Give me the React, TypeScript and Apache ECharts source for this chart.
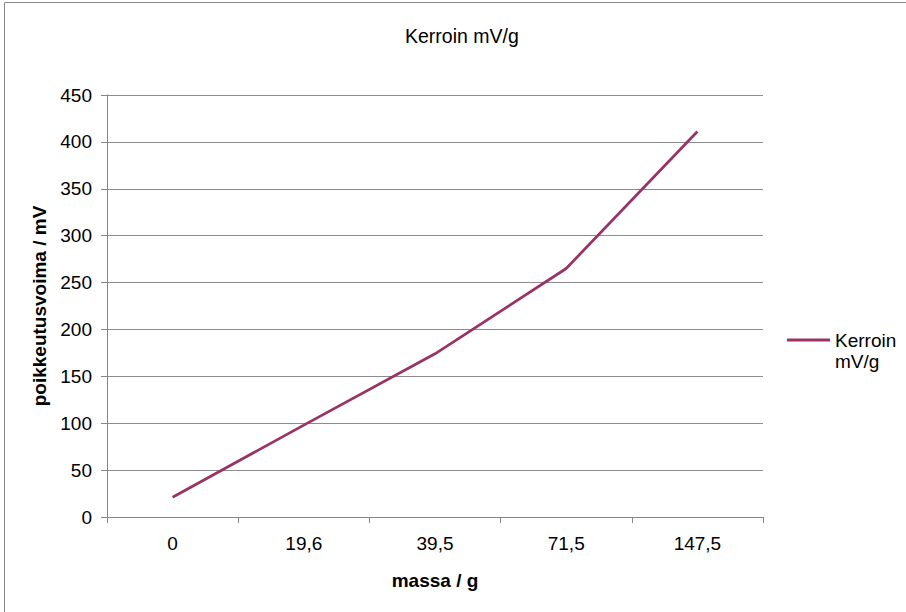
import React, { useEffect, useRef } from "react";
import * as echarts from "echarts";

const categories = ["0", "19,6", "39,5", "71,5", "147,5"];
const values = [21, 98, 174, 265, 411];
const seriesName = "Kerroin mV/g";
const titleText = "Kerroin mV/g";
const xName = "massa / g";
const yName = "poikkeutusvoima / mV";

export default function App() {
  const ref = useRef<HTMLDivElement>(null);
  useEffect(() => {
    if (!ref.current) return;
    const chart = echarts.init(ref.current, null, { renderer: "svg" });
    const font = "Liberation Sans, Arial, sans-serif";
    chart.setOption({
      animation: false,
      backgroundColor: "#ffffff",
      textStyle: { fontFamily: font },
      title: {
        text: titleText,
        left: 400,
        top: 21,
        textStyle: { fontFamily: font, fontSize: 19.5, fontWeight: "normal", color: "#000" },
      },
      graphic: [
        {
          type: "rect",
          shape: { x: 4.5, y: 2.5, width: 1000, height: 700 },
          style: { fill: "none", stroke: "#8a8a8a", lineWidth: 1 },
          silent: true,
        },
      ],
      legend: {
        orient: "vertical",
        left: 782,
        top: 303.5,
        icon: "rect",
        itemWidth: 43,
        itemHeight: 3,
        itemGap: 0,
        formatter: () => "\nKerroin\nmV/g",
        textStyle: {
          fontFamily: font,
          fontSize: 19,
          color: "#000",
          lineHeight: 21,
        },
        data: [seriesName],
      },
      grid: { left: 107, right: 143, top: 95, bottom: 95, containLabel: false },
      xAxis: {
        type: "category",
        data: categories,
        boundaryGap: true,
        name: xName,
        nameLocation: "middle",
        nameGap: 54,
        nameTextStyle: { fontFamily: font, fontSize: 19, fontWeight: "bold", color: "#000" },
        axisLine: { lineStyle: { color: "#868686", width: 1 } },
        axisTick: { show: true, interval: 0, length: 6, lineStyle: { color: "#868686" } },
        axisLabel: { fontFamily: font, fontSize: 19, color: "#000", margin: 17, interval: 0 },
        splitLine: { show: false },
      },
      yAxis: {
        type: "value",
        min: 0,
        max: 450,
        interval: 50,
        name: yName,
        nameLocation: "middle",
        nameGap: 56,
        nameRotate: 90,
        nameTextStyle: { fontFamily: font, fontSize: 19, fontWeight: "bold", color: "#000" },
        axisLine: { show: true, lineStyle: { color: "#868686", width: 1 } },
        axisTick: { show: true, length: 6, lineStyle: { color: "#868686" } },
        axisLabel: { fontFamily: font, fontSize: 19, color: "#000", margin: 15 },
        splitLine: { show: true, lineStyle: { color: "#8c8c8c", width: 1 } },
      },
      series: [
        {
          name: seriesName,
          type: "line",
          data: values,
          symbol: "none",
          lineStyle: { color: "#993366", width: 2.75 },
          itemStyle: { color: "#993366" },
        },
      ],
    });
    return () => chart.dispose();
  }, []);
  return (
    <div
      ref={ref}
      style={{ position: "fixed", left: 0, top: 0, width: 906, height: 612 }}
    />
  );
}
